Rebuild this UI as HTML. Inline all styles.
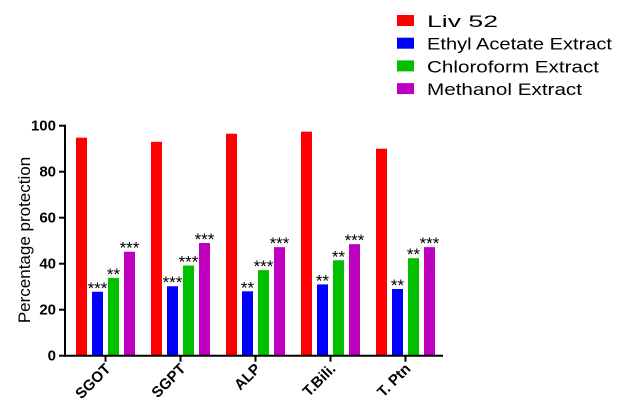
<!DOCTYPE html>
<html><head><meta charset="utf-8"><style>
body{margin:0;background:#fff;}
svg{display:block;font-family:"Liberation Sans",Arial,sans-serif;}
</style></head><body>
<svg id="chart" width="627" height="419">
<g id="legend"></g>
<g id="bars"></g>
<g id="axes"></g>
<text transform="translate(30,240) rotate(-90)" text-anchor="middle" font-size="17" fill="#000">Percentage protection</text>
</svg>
<script>
const categories=["SGOT","SGPT","ALP","T.Bili.","T. Ptn"];
const seriesNames=["Liv 52","Ethyl Acetate Extract","Chloroform Extract","Methanol Extract"];
const liv52=[94.8,93,96.5,97.4,90];
const ethylAcetate=[27.8,30.2,28,31,29];
const chloroform=[33.8,39.2,37.2,41.5,42.4];
const methanol=[45.2,49,47.2,48.5,47.2];
const sig=[["","***","**","***"],["","***","***","***"],["","**","***","***"],["","**","**","***"],["","**","**","***"]];
const yTicks=[0,20,40,60,80,100];
const colors=["#ff0000","#0000ff","#00c000","#c000c0"];
const series=[liv52,ethylAcetate,chloroform,methanol];
const NS="http://www.w3.org/2000/svg";
const x0=65,x1=443,y0=355.7,y1=125.7;
const ys=v=>y0-(v/100)*(y0-y1);
const xc=i=>105.5+i*75;
function mk(tag,attrs,parent){const e=document.createElementNS(NS,tag);for(const k in attrs)e.setAttribute(k,attrs[k]);parent.appendChild(e);return e;}
const bars=document.getElementById('bars'),axes=document.getElementById('axes'),legend=document.getElementById('legend');
categories.forEach((c,i)=>{
  series.forEach((s,j)=>{
    const bx=xc(i)-29.5+j*16;
    const r=mk('rect',{x:bx,y:ys(s[i]),width:11,height:y0-ys(s[i]),fill:colors[j]},bars);
    
    
    if(sig[i][j]){
      const t=mk('text',{x:bx+5.5,y:ys(s[i])+2,'text-anchor':'middle','font-size':'17',fill:'#000'},bars);
      t.textContent=sig[i][j];
      
      
    }
  });
  mk('line',{x1:xc(i),x2:xc(i),y1:y0,y2:y0+6,stroke:'#000','stroke-width':2},axes);
  const t=mk('text',{transform:`translate(${xc(i)+6},${y0+14}) rotate(-45)`,'text-anchor':'end','font-size':'15','font-weight':'bold',fill:'#000'},axes);
  t.textContent=c;
  
  
});
mk('line',{x1:x0,x2:x0,y1:y1-1,y2:y0+1,stroke:'#000','stroke-width':2},axes);
mk('line',{x1:x0-1,x2:x1,y1:y0,y2:y0,stroke:'#000','stroke-width':2},axes);
yTicks.forEach(v=>{
  mk('line',{x1:x0-6,x2:x0,y1:ys(v),y2:ys(v),stroke:'#000','stroke-width':2},axes);
  const t=mk('text',{x:x0-9,y:ys(v)+5,'text-anchor':'end','font-size':'15','font-weight':'bold',fill:'#000'},axes);
  t.textContent=v;
  
  
});
const legendWidths=[71,185,172,155];
seriesNames.forEach((n,j)=>{
  const y=21+j*22.7;
  const r=mk('rect',{x:397,y:y-6,width:17,height:11,fill:colors[j]},legend);
  
  
  const t=mk('text',{x:427,y:y+6,'font-size':'17',fill:'#000',textLength:legendWidths[j],lengthAdjust:'spacingAndGlyphs'},legend);
  t.textContent=n;
  
  
});
</script>
</body></html>
